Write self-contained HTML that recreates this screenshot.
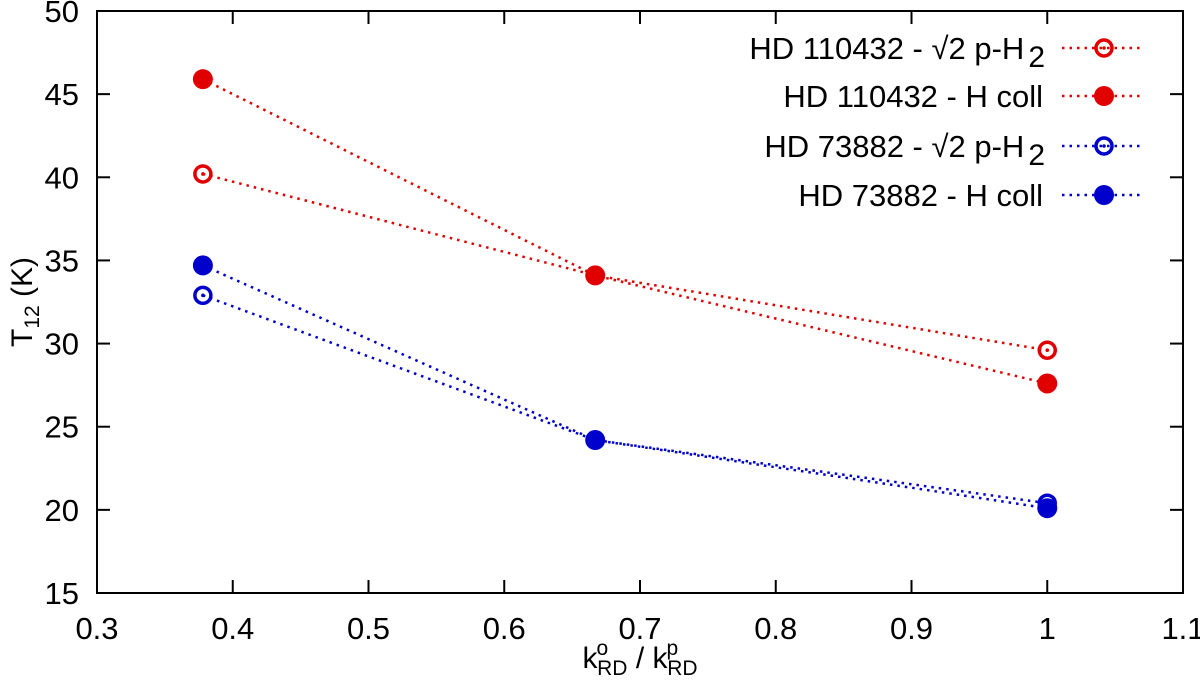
<!DOCTYPE html>
<html><head><meta charset="utf-8"><style>
body{margin:0;background:#fff}
svg{font-family:"Liberation Sans",Arial,sans-serif}
</style></head><body>
<svg id="c" width="1200" height="695">
<g id="axes"></g><g id="marks"></g><g id="legend"></g>
<text transform="translate(32,302) rotate(-90)" text-anchor="middle" font-size="30">T<tspan font-size="21" dy="7">12</tspan><tspan dy="-7"> (K)</tspan></text>
<text x="640" y="668" text-anchor="middle" font-size="30">k<tspan font-size="21" dx="-1" dy="-13">o</tspan><tspan font-size="21" dx="-11" dy="20">RD</tspan><tspan dy="-7"> / k</tspan><tspan font-size="21" dx="-1" dy="-13">p</tspan><tspan font-size="21" dx="-11" dy="20">RD</tspan></text>
</svg>
<script>
const xVals=[0.378,0.667,1.0];
const redOpen=[40.2,34.1,29.6];
const redFilled=[45.9,34.1,27.6];
const blueOpen=[32.9,24.2,20.4];
const blueFilled=[34.7,24.2,20.1];
const xTicks=[0.3,0.4,0.5,0.6,0.7,0.8,0.9,1,1.1];
const yTicks=[15,20,25,30,35,40,45,50];
const seriesNames=["HD 110432 - √2 p-H","HD 110432 - H coll","HD 73882 - √2 p-H","HD 73882 - H coll"];
const L=97,R=1183,T=11,B=593;
const sx=v=>L+(v-0.3)/0.8*(R-L);
const sy=v=>B-(v-15)/35*(B-T);
const NS="http://www.w3.org/2000/svg";
function mk(p,t,a){const e=document.createElementNS(NS,t);for(const k in a)e.setAttribute(k,a[k]);p.appendChild(e);return e;}
const ax=document.getElementById('axes');
const frame=mk(ax,'rect',{x:L,y:T,width:R-L,height:B-T,fill:'none',stroke:'#000','stroke-width':2});


xTicks.forEach(v=>{const x=sx(v);
 mk(ax,'line',{x1:x,x2:x,y1:B,y2:B-13,stroke:'#000','stroke-width':2});
 mk(ax,'line',{x1:x,x2:x,y1:T,y2:T+13,stroke:'#000','stroke-width':2});
 const t=mk(ax,'text',{x:x,y:B+46,'text-anchor':'middle','font-size':31});t.textContent=String(v);
 
 });
yTicks.forEach(v=>{const y=sy(v);
 mk(ax,'line',{x1:L,x2:L+13,y1:y,y2:y,stroke:'#000','stroke-width':2});
 mk(ax,'line',{x1:R,x2:R-13,y1:y,y2:y,stroke:'#000','stroke-width':2});
 const t=mk(ax,'text',{x:79,y:y+11,'text-anchor':'end','font-size':31});t.textContent=String(v);
 
 });
const series=[[redOpen,'#e00000',false],[redFilled,'#e00000',true],[blueOpen,'#0000cc',false],[blueFilled,'#0000cc',true]];
const mg=document.getElementById('marks');
function marker(g,x,y,col,filled){
 if(filled){return mk(g,'circle',{cx:x,cy:y,r:10,fill:col});}
 const c=mk(g,'circle',{cx:x,cy:y,r:8,fill:'none',stroke:col,'stroke-width':3.5});
 mk(g,'circle',{cx:x,cy:y,r:1.8,fill:col});return c;}
series.forEach((s,i)=>{
 const g=mk(mg,'g',{});
 
 
 const pts=xVals.map((x,j)=>sx(x)+','+sy(s[0][j])).join(' ');
 mk(g,'polyline',{points:pts,fill:'none',stroke:s[1],'stroke-width':2.5,'stroke-dasharray':'2.5 5'});
 xVals.forEach((x,j)=>{const m=marker(g,sx(x),sy(s[0][j]),s[1],s[2]);
  
  });
});
const lg=document.getElementById('legend');
const rowY=[48,96,146,195];
series.forEach((s,i)=>{const y=rowY[i];
 const g=mk(lg,'g',{});
 
 
 const t=mk(g,'text',{x:i%2===0?1045:1043,y:y+11,'text-anchor':'end','font-size':31});
 t.textContent=seriesNames[i];
 if(i%2===0){const ts=mk(t,'tspan',{'font-size':30,dx:4,dy:8});ts.textContent='2';}
 mk(g,'line',{x1:1062,x2:1142,y1:y,y2:y,stroke:s[1],'stroke-width':2.5,'stroke-dasharray':'2.5 5'});
 marker(g,1104,y,s[1],s[2]);
});
</script>
</body></html>
